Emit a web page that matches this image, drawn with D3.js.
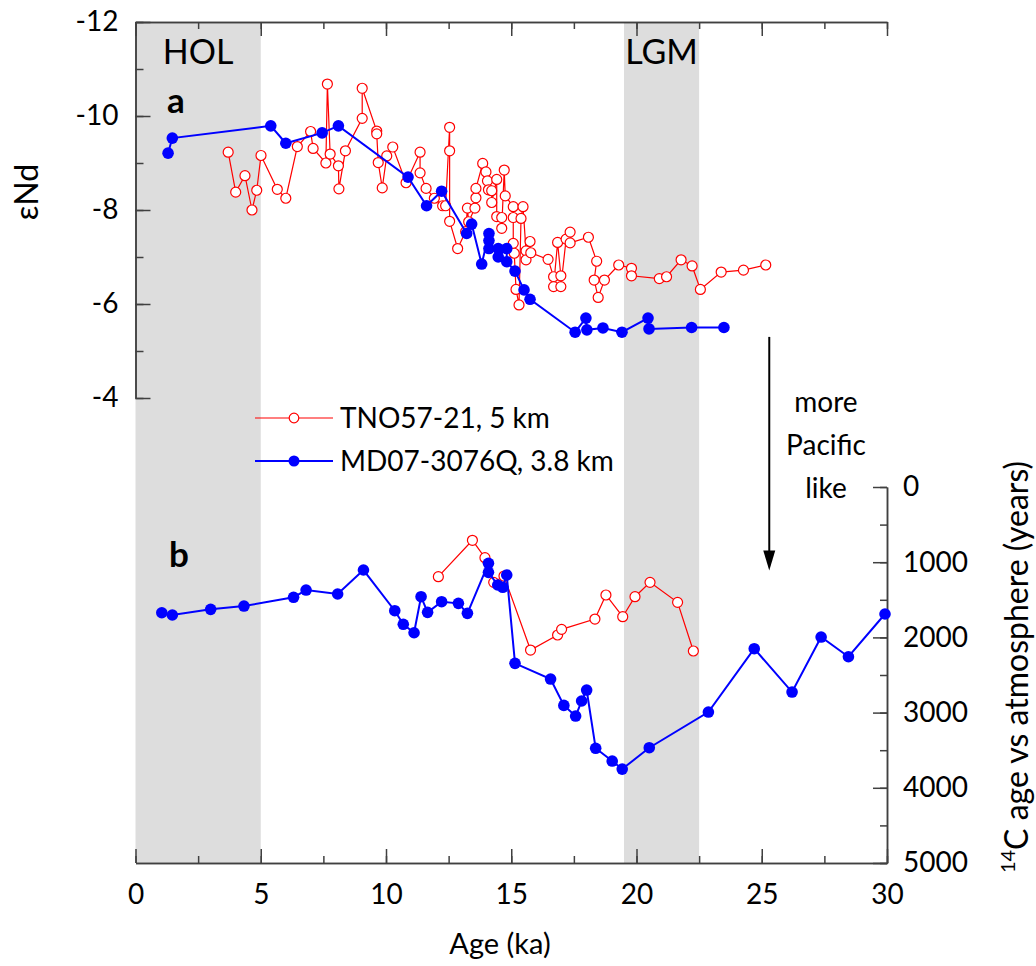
<!DOCTYPE html>
<html>
<head>
<meta charset="utf-8">
<script src="https://cdn.jsdelivr.net/npm/d3@7"></script>
<style>
body { margin:0; background:#fff; }
svg text { font-family: Lato, 'Open Sans', sans-serif; fill:#000; }
</style>
</head>
<body>
<svg id="drawing_region"></svg>
<script>
// eNd, TNO57-21 (age ka, eNd)
const tnoNdAge = [3.7,4.0,4.37,4.65,4.84,5.01,5.66,6.0,6.46,6.99,7.09,7.6,7.66,7.77,8.1,8.12,8.38,9.05,9.05,9.63,9.63,9.69,9.85,10.03,10.27,10.8,11.36,11.36,11.6,11.93,12.26,12.38,12.54,12.54,12.54,12.86,13.18,13.25,13.3,13.55,13.59,13.59,13.86,13.99,14.05,14.09,14.22,14.22,14.42,14.42,14.62,14.62,14.72,14.76,15.08,15.08,15.08,15.12,15.19,15.31,15.39,15.47,15.59,15.59,15.75,15.78,16.47,16.69,16.69,16.85,16.98,16.98,17.19,17.35,17.35,18.08,18.41,18.31,18.47,18.72,19.29,19.8,19.8,20.91,21.2,21.78,22.22,22.55,23.38,24.27,25.16];
const tnoNd    = [-9.23,-8.38,-8.73,-8.0,-8.42,-9.16,-8.44,-8.25,-9.35,-9.67,-9.31,-9.0,-10.68,-9.19,-8.94,-8.45,-9.26,-9.95,-10.59,-9.68,-9.62,-9.01,-8.47,-9.15,-9.34,-8.58,-9.23,-8.79,-8.46,-8.25,-8.09,-8.09,-9.76,-9.26,-7.76,-7.18,-7.54,-8.04,-7.75,-8.04,-8.26,-8.46,-8.99,-8.81,-8.62,-8.43,-8.41,-8.16,-8.65,-7.86,-7.84,-7.61,-8.85,-8.30,-8.07,-7.84,-7.29,-7.08,-6.31,-5.98,-7.82,-8.07,-7.13,-6.94,-7.33,-7.09,-6.95,-6.58,-6.37,-7.31,-6.60,-6.37,-7.38,-7.53,-7.30,-7.42,-6.91,-6.51,-6.14,-6.51,-6.83,-6.76,-6.60,-6.54,-6.58,-6.94,-6.81,-6.31,-6.68,-6.72,-6.83];

// eNd, MD07-3076Q
const mdNdAge = [1.3,1.47,5.4,6.0,7.45,8.1,10.88,11.62,12.22,13.22,13.42,13.82,14.11,14.11,14.11,14.48,14.48,14.82,14.82,15.15,15.51,15.75,17.55,17.98,18.02,18.66,19.42,20.46,20.5,22.2,23.49];
const mdNd    = [-9.21,-9.53,-9.79,-9.42,-9.64,-9.79,-8.70,-8.09,-8.40,-7.50,-7.70,-6.85,-7.50,-7.35,-7.18,-7.18,-7.0,-7.18,-6.9,-6.70,-6.30,-6.10,-5.40,-5.70,-5.45,-5.49,-5.40,-5.70,-5.47,-5.50,-5.50];

// 14C age vs atmosphere, TNO57-21
const tnoC14Age = [12.09,13.45,13.95,14.3,14.71,15.77,16.85,17.01,18.34,18.78,19.45,19.94,20.54,21.64,22.27];
const tnoC14    = [1193,709,940,1268,1184,2168,1968,1893,1756,1436,1725,1459,1268,1534,2181];

// 14C age vs atmosphere, MD07-3076Q
const mdC14Age = [1.05,1.47,3.0,4.33,6.31,6.81,8.07,9.1,10.35,10.69,11.12,11.4,11.66,12.22,12.89,13.25,14.09,14.09,14.46,14.66,14.82,15.15,16.57,17.1,17.57,17.81,18.01,18.37,19.03,19.43,20.51,22.87,24.7,26.21,27.37,28.46,29.92];
const mdC14    = [1672,1702,1627,1583,1467,1370,1423,1104,1645,1826,1938,1459,1667,1525,1547,1680,1015,1135,1303,1334,1170,2345,2554,2904,3046,2846,2700,3475,3644,3751,3467,2993,2150,2727,1995,2257,1689];

const bands = [{name:'HOL', x0:0, x1:5}, {name:'LGM', x0:19.5, x1:22.5}];
const ndTicks = [-12,-10,-8,-6,-4];
const c14Ticks = [0,1000,2000,3000,4000,5000];
const ageTicks = [0,5,10,15,20,25,30];

const W = 1036, H = 966;
const svg = d3.select('#drawing_region').attr('width', W).attr('height', H);

const xscale = d3.scaleLinear().domain([0,30]).range([135.5, 887]);
const yNd = d3.scaleLinear().domain([-12,-4]).range([22, 398]);
const yC = d3.scaleLinear().domain([0,5000]).range([487, 863]);
const topY = 22, bottomY = 863;

// shaded periods
svg.append('g').selectAll('rect').data(bands).join('rect')
    .attr('x', d => xscale(d.x0))
    .attr('y', topY)
    .attr('width', d => xscale(d.x1) - xscale(d.x0))
    .attr('height', bottomY - topY)
    .attr('fill', '#dddddd');

svg.append('g').selectAll('text').data(bands).join('text')
    .attr('x', d => (xscale(d.x0) + xscale(d.x1)) / 2)
    .attr('y', 64)
    .attr('text-anchor', 'middle')
    .attr('font-size', '34px')
    .text(d => d.name);

// axes
const axisColor = '#404040';
function style(g){
    g.selectAll('path, line').attr('stroke', axisColor).attr('stroke-width', 1.5);
    g.selectAll('text').attr('font-size', '28px').attr('font-family', "Lato, 'Open Sans', sans-serif").attr('fill', '#000');
}

// bottom
svg.append('g').attr('transform', `translate(0,${bottomY})`)
    .call(d3.axisBottom(xscale).tickValues(d3.range(0, 30.1, 2.5)).tickSizeInner(-7).tickSizeOuter(0).tickFormat(''))
    .call(style);
svg.append('g').attr('transform', `translate(0,${bottomY})`)
    .call(d3.axisBottom(xscale).tickValues(ageTicks).tickSizeInner(-14).tickSizeOuter(0).tickPadding(21).tickFormat(d => d))
    .call(style);
// top
svg.append('g').attr('transform', `translate(0,${topY})`)
    .call(d3.axisTop(xscale).tickValues(d3.range(0, 30.1, 2.5)).tickSizeInner(-7).tickSizeOuter(0).tickFormat(''))
    .call(style);
svg.append('g').attr('transform', `translate(0,${topY})`)
    .call(d3.axisTop(xscale).tickValues(ageTicks).tickSizeInner(-14).tickSizeOuter(0).tickFormat(''))
    .call(style);
// left eNd
svg.append('g').attr('transform', `translate(${xscale(0)},0)`)
    .call(d3.axisLeft(yNd).tickValues(d3.range(-12, -3.9, 1)).tickSizeInner(-8).tickSizeOuter(0).tickFormat(''))
    .call(style);
svg.append('g').attr('transform', `translate(${xscale(0)},0)`)
    .call(d3.axisLeft(yNd).tickValues(ndTicks).tickSizeInner(-15).tickSizeOuter(0).tickPadding(17).tickFormat(d => String(d)))
    .call(style);
// right 14C
svg.append('g').attr('transform', `translate(${xscale(30)},0)`)
    .call(d3.axisRight(yC).tickValues(d3.range(0, 5001, 500)).tickSizeInner(-7).tickSizeOuter(0).tickFormat(''))
    .call(style);
svg.append('g').attr('transform', `translate(${xscale(30)},0)`)
    .call(d3.axisRight(yC).tickValues(c14Ticks).tickSizeInner(-14).tickSizeOuter(0).tickPadding(16).tickFormat(d => String(d)))
    .call(style);

// axis titles
svg.append('text')
    .attr('transform', 'translate(38,192) rotate(-90)')
    .attr('text-anchor', 'middle')
    .attr('font-size', '32px')
    .text('εNd');
svg.append('text')
    .attr('x', 500).attr('y', 954)
    .attr('text-anchor', 'middle')
    .attr('font-size', '29px')
    .text('Age (ka)');
const rt = svg.append('text')
    .attr('transform', 'translate(1028,667) rotate(-90)')
    .attr('text-anchor', 'middle')
    .attr('font-size', '32px');
rt.append('tspan').attr('font-size', '20px').attr('dy', '-13').text('14');
rt.append('tspan').attr('dy', '13').text('C age vs atmosphere (years)');

// panel letters
svg.append('text').attr('x', 167).attr('y', 113).attr('font-size', '35px').attr('font-weight', 'bold').text('a');
svg.append('text').attr('x', 169).attr('y', 567).attr('font-size', '35px').attr('font-weight', 'bold').text('b');

// series
const red = '#ff0000', blue = '#0000ff';
function series(ages, vals, ys, color, filled){
    const pts = ages.map((a, i) => ({x: a, y: vals[i]}));
    const line = d3.line().x(d => xscale(d.x)).y(d => ys(d.y));
    const g = svg.append('g');
    g.append('path').attr('d', line(pts))
        .attr('fill', 'none')
        .attr('stroke', color)
        .attr('stroke-width', filled ? 2 : 1.2);
    g.selectAll('circle').data(pts).join('circle')
        .attr('cx', d => xscale(d.x))
        .attr('cy', d => ys(d.y))
        .attr('r', filled ? 5.8 : 5)
        .attr('fill', filled ? color : '#fff')
        .attr('stroke', color)
        .attr('stroke-width', filled ? 0 : 1.2);
}
series(tnoNdAge, tnoNd, yNd, red, false);
series(mdNdAge, mdNd, yNd, blue, true);
series(tnoC14Age, tnoC14, yC, red, false);
series(mdC14Age, mdC14, yC, blue, true);

// legend
const legend = [{label:'TNO57-21, 5 km', color:red, filled:false, y:418},
                {label:'MD07-3076Q, 3.8 km', color:blue, filled:true, y:461}];
const lg = svg.append('g').selectAll('g').data(legend).join('g')
    .attr('transform', d => `translate(0,${d.y})`);
lg.append('line').attr('x1', 255).attr('x2', 333)
    .attr('stroke', d => d.color).attr('stroke-width', d => d.filled ? 2 : 1.2);
lg.append('circle').attr('cx', 294).attr('r', d => d.filled ? 5.5 : 4.8)
    .attr('fill', d => d.filled ? d.color : '#fff')
    .attr('stroke', d => d.color).attr('stroke-width', d => d.filled ? 0 : 1.2);
lg.append('text').attr('x', 340).attr('dy', '0.35em').attr('font-size', '28px').text(d => d.label);

// arrow annotation
const ax = xscale(25.3);
svg.append('line').attr('x1', ax).attr('x2', ax)
    .attr('y1', yNd(-5.3)).attr('y2', yC(950))
    .attr('stroke', '#000').attr('stroke-width', 2);
svg.append('path')
    .attr('d', `M${ax-6},${yC(950)-8} L${ax+6},${yC(950)-8} L${ax},${yC(950)+12} Z`)
    .attr('fill', '#000');
svg.append('g').selectAll('text').data(['more','Pacific','like']).join('text')
    .attr('x', 826)
    .attr('y', (d, i) => 412 + i * 43)
    .attr('text-anchor', 'middle')
    .attr('font-size', '28px')
    .text(d => d);
</script>
</body>
</html>
